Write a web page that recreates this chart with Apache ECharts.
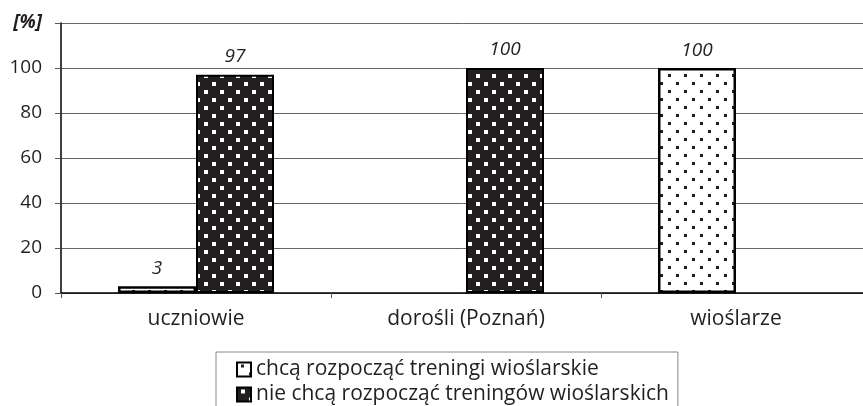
<!DOCTYPE html>
<html>
<head>
<meta charset="utf-8">
<script src="https://cdn.jsdelivr.net/npm/echarts@6/dist/echarts.min.js"></script>
<style>html,body{margin:0;padding:0;background:#fff}#c{width:863px;height:406px}</style>
</head>
<body>
<div id="c"></div>
<script>
var categories = ['uczniowie', 'dorośli (Poznań)', 'wioślarze'];
var seriesNames = ['chcą rozpocząć treningi wioślarskie', 'nie chcą rozpocząć treningów wioślarskich'];
var wantValues = [3, 0, 100];
var notWantValues = [97, 100, 0];
var yTicks = [0, 20, 40, 60, 80, 100, 120];
var yUnitLabel = '[%]';

function makePattern(bg, dot, s) {
  var c = document.createElement('canvas');
  c.width = 16; c.height = 16;
  var g = c.getContext('2d');
  g.fillStyle = bg; g.fillRect(0, 0, 16, 16);
  g.fillStyle = dot;
  g.fillRect(4, 2, s, s);
  g.fillRect(12, 10, s, s);
  return { image: c, repeat: 'repeat' };
}
var lightPat = makePattern('#ffffff', '#231f20', 3);
var darkPat = makePattern('#231f20', '#ffffff', 4);

function toData(arr) {
  return arr.map(function (v) { return v === 0 ? { value: v, itemStyle: { borderWidth: 0 } } : v; });
}

var txt = '#231f20';
var font = '"Open Sans", "Noto Sans", sans-serif';
var fs = 19;
var fsText = 21;
var chart = echarts.init(document.getElementById('c'), null, { renderer: 'canvas' });
chart.setOption({
  animation: false,
  grid: { left: 61, right: -8, top: 23, bottom: 113, containLabel: false, outerBoundsMode: 'none' },
  legend: {
    orient: 'vertical',
    left: 216, top: 352,
    width: 480, height: 80,
    padding: [7, 9, 20, 20],
    borderColor: '#888', borderWidth: 1,
    itemWidth: 14, itemHeight: 14, itemGap: 4,
    icon: 'rect',
    textStyle: { fontSize: fsText, color: txt, fontFamily: font },
    data: seriesNames
  },
  xAxis: {
    type: 'category',
    data: categories,
    axisLine: { lineStyle: { color: '#000', width: 1.5 } },
    axisTick: { show: true, length: 5, lineStyle: { color: '#555' } },
    axisLabel: { fontSize: fsText, color: txt, fontFamily: font, margin: 16 },
    splitLine: { show: false }
  },
  yAxis: {
    type: 'value',
    min: yTicks[0], max: yTicks[yTicks.length - 1], interval: 20,
    axisLine: { show: true, lineStyle: { color: '#000', width: 1.5 } },
    axisTick: { show: true, length: 6, lineStyle: { color: '#555' } },
    axisLabel: {
      fontSize: fs, color: txt, fontFamily: font, margin: 19,
      formatter: function (v) { return v === yTicks[yTicks.length - 1] ? '{u|' + yUnitLabel + '}' : String(v); },
      rich: { u: { fontSize: fs, fontWeight: 'bold', fontStyle: 'italic', color: txt, fontFamily: font } }
    },
    splitLine: { show: true, lineStyle: { color: '#666', width: 1 } }
  },
  series: [
    {
      name: seriesNames[0], type: 'bar', data: toData(wantValues),
      barWidth: 78, barGap: '0%',
      itemStyle: { color: lightPat, borderColor: '#000', borderWidth: 2.5 },
      label: {
        show: true, position: 'top', distance: 8,
        fontSize: fs, fontStyle: 'italic', color: txt, fontFamily: font,
        formatter: function (p) { return p.value ? String(p.value) : ''; }
      }
    },
    {
      name: seriesNames[1], type: 'bar', data: toData(notWantValues),
      barWidth: 78, barGap: '0%',
      itemStyle: { color: darkPat, borderColor: '#000', borderWidth: 2 },
      label: {
        show: true, position: 'top', distance: 9,
        fontSize: fs, fontStyle: 'italic', color: txt, fontFamily: font,
        formatter: function (p) { return p.value ? String(p.value) : ''; }
      }
    }
  ]
});
</script>
</body>
</html>
